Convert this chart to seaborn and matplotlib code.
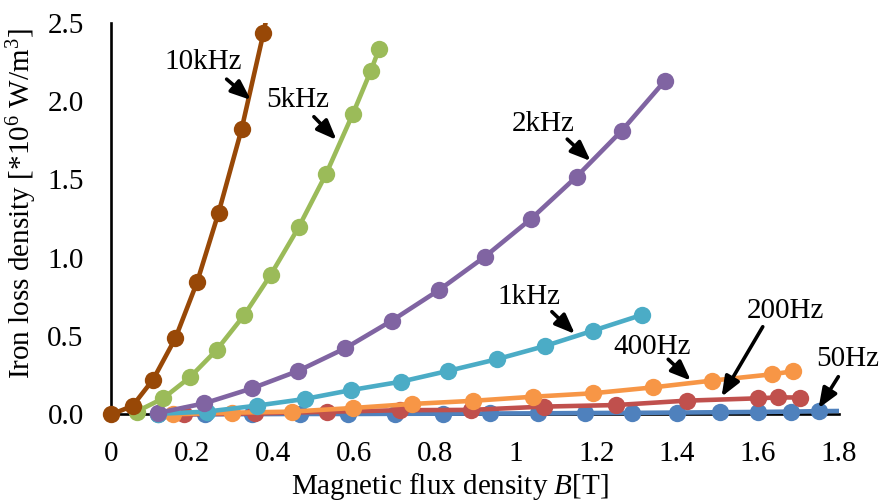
import matplotlib
matplotlib.use("Agg")
import matplotlib.pyplot as plt
import pandas as pd
import seaborn as sns

# Iron loss density vs. peak flux density, one curve per excitation frequency
freq_order = ["50Hz", "200Hz", "400Hz", "1kHz", "2kHz", "5kHz", "10kHz"]
freq_colors = ["#4F81BD", "#C0504D", "#F79646", "#4BACC6", "#8064A2", "#9BBB59", "#984807"]

b_50hz = [0.116, 0.232, 0.347, 0.467, 0.586, 0.702, 0.821, 0.937, 1.056, 1.172,
          1.288, 1.400, 1.506, 1.600, 1.681, 1.751, 1.850]
loss_50hz = [0.000, 0.000, 0.001, 0.002, 0.002, 0.003, 0.004, 0.005, 0.006, 0.008,
             0.009, 0.011, 0.013, 0.015, 0.017, 0.020, 0.022]

b_200hz = [0.180, 0.355, 0.534, 0.714, 0.890, 1.070, 1.249, 1.424, 1.601, 1.650, 1.705]
loss_200hz = [0.000, 0.005, 0.016, 0.026, 0.028, 0.049, 0.059, 0.087, 0.102, 0.108, 0.107]

b_400hz = [0.151, 0.298, 0.446, 0.597, 0.744, 0.895, 1.043, 1.191, 1.341, 1.486, 1.634, 1.688]
loss_400hz = [0.000, 0.010, 0.017, 0.040, 0.066, 0.086, 0.112, 0.134, 0.172, 0.215, 0.255, 0.275]

b_1khz = [0.116, 0.236, 0.359, 0.479, 0.594, 0.716, 0.833, 0.953, 1.073, 1.192, 1.312]
loss_1khz = [0.003, 0.017, 0.055, 0.098, 0.155, 0.208, 0.277, 0.351, 0.436, 0.534, 0.634]

b_2khz = [0.116, 0.230, 0.347, 0.462, 0.578, 0.694, 0.811, 0.924, 1.038, 1.151, 1.263, 1.370]
loss_2khz = [0.009, 0.070, 0.165, 0.277, 0.421, 0.598, 0.794, 1.006, 1.247, 1.517, 1.811, 2.130]

b_5khz = [0.062, 0.128, 0.194, 0.260, 0.328, 0.394, 0.463, 0.531, 0.597, 0.642, 0.662]
loss_5khz = [0.017, 0.102, 0.236, 0.410, 0.632, 0.890, 1.193, 1.534, 1.916, 2.194, 2.331]

b_10khz = [0.000, 0.052, 0.103, 0.158, 0.212, 0.265, 0.322, 0.376, 0.430]
loss_10khz = [0.000, 0.053, 0.222, 0.485, 0.845, 1.287, 1.820, 2.433, 3.120]

x_ticks = [0, 0.2, 0.4, 0.6, 0.8, 1.0, 1.2, 1.4, 1.6, 1.8]
x_tick_labels = ["0", "0.2", "0.4", "0.6", "0.8", "1", "1.2", "1.4", "1.6", "1.8"]
y_ticks = [0, 0.5, 1.0, 1.5, 2.0, 2.5]
y_tick_labels = ["0.0", "0.5", "1.0", "1.5", "2.0", "2.5"]

series = {
    "50Hz": (b_50hz, loss_50hz),
    "200Hz": (b_200hz, loss_200hz),
    "400Hz": (b_400hz, loss_400hz),
    "1kHz": (b_1khz, loss_1khz),
    "2kHz": (b_2khz, loss_2khz),
    "5kHz": (b_5khz, loss_5khz),
    "10kHz": (b_10khz, loss_10khz),
}
frames = [pd.DataFrame({"B": b, "loss": p, "freq": f}) for f, (b, p) in series.items()]
df = pd.concat(frames, ignore_index=True)

sns.set_theme(style="white")
plt.rcParams["font.family"] = ["Liberation Serif", "DejaVu Serif"]
plt.rcParams["mathtext.fontset"] = "custom"
plt.rcParams["mathtext.rm"] = "Liberation Serif"
plt.rcParams["mathtext.it"] = "Liberation Serif:italic"

FS = 21

fig = plt.figure(figsize=(8.81, 5.03), dpi=100)
ax = fig.add_axes([0.1128, 0.1577, 0.8392, 0.7970])

sns.lineplot(data=df, x="B", y="loss", hue="freq", hue_order=freq_order,
             palette=freq_colors, sort=False, estimator=None, legend=False,
             marker="o", markersize=12.5, markeredgewidth=0, linewidth=3.3, ax=ax)

ax.set_xlim(-0.03, 1.8)
ax.set_ylim(-0.06, 2.5)

# axes cross at the origin; spines span only the tick range
ax.spines["left"].set_position(("data", 0))
ax.spines["bottom"].set_position(("data", 0))
ax.spines["left"].set_bounds(0, 2.5)
ax.spines["bottom"].set_bounds(0, 1.8)
ax.spines["top"].set_visible(False)
ax.spines["right"].set_visible(False)
for side in ("left", "bottom"):
    ax.spines[side].set_color("black")
    ax.spines[side].set_linewidth(1.9)
    ax.spines[side].set_zorder(1.5)

ax.set_xticks(x_ticks)
ax.set_xticklabels(x_tick_labels)
ax.set_yticks(y_ticks)
ax.set_yticklabels(y_tick_labels)
ax.tick_params(axis="both", direction="in", length=5.5, width=1.5, color="black",
               labelsize=FS, labelcolor="black")
ax.tick_params(axis="x", pad=19.5)
ax.tick_params(axis="y", pad=20)

ax.set_xlabel("Magnetic flux density $B$[T]", fontsize=FS, color="black")
ax.set_ylabel("Iron loss density [*10$^6$ W/m$^3$]", fontsize=FS, color="black")
ax.xaxis.label.set_va("center")
ax.yaxis.label.set_va("center")
ax.xaxis.set_label_coords(0.474, -0.157)
ax.yaxis.set_label_coords(-0.105, 0.548)

# curve labels with arrows: text centre, arrow tail, arrow tip (data units)
callouts = {
    "10kHz": ((0.226, 2.25), (0.285, 2.14), (0.345, 2.007)),
    "5kHz": ((0.461, 2.007), (0.501, 1.90), (0.557, 1.752)),
    "2kHz": ((1.069, 1.853), (1.128, 1.757), (1.186, 1.617)),
    "1kHz": ((1.033, 0.747), (1.090, 0.655), (1.147, 0.513)),
    "400Hz": ((1.337, 0.432), (1.378, 0.351), (1.434, 0.215)),
    "200Hz": ((1.667, 0.662), (1.612, 0.559), (1.510, 0.112)),
    "50Hz": ((1.821, 0.353), (1.799, 0.240), (1.750, 0.038)),
}
for label, (txt, tail, tip) in callouts.items():
    ax.text(txt[0], txt[1], label, fontsize=FS, color="black",
            ha="center", va="center", zorder=6, clip_on=False)
    ax.annotate("", xy=tip, xytext=tail, zorder=6, annotation_clip=False,
                arrowprops=dict(arrowstyle="-|>,head_length=0.75,head_width=0.3",
                                mutation_scale=16, lw=2.6, color="black",
                                shrinkA=0, shrinkB=0))

fig.savefig("out.png", dpi=100)
